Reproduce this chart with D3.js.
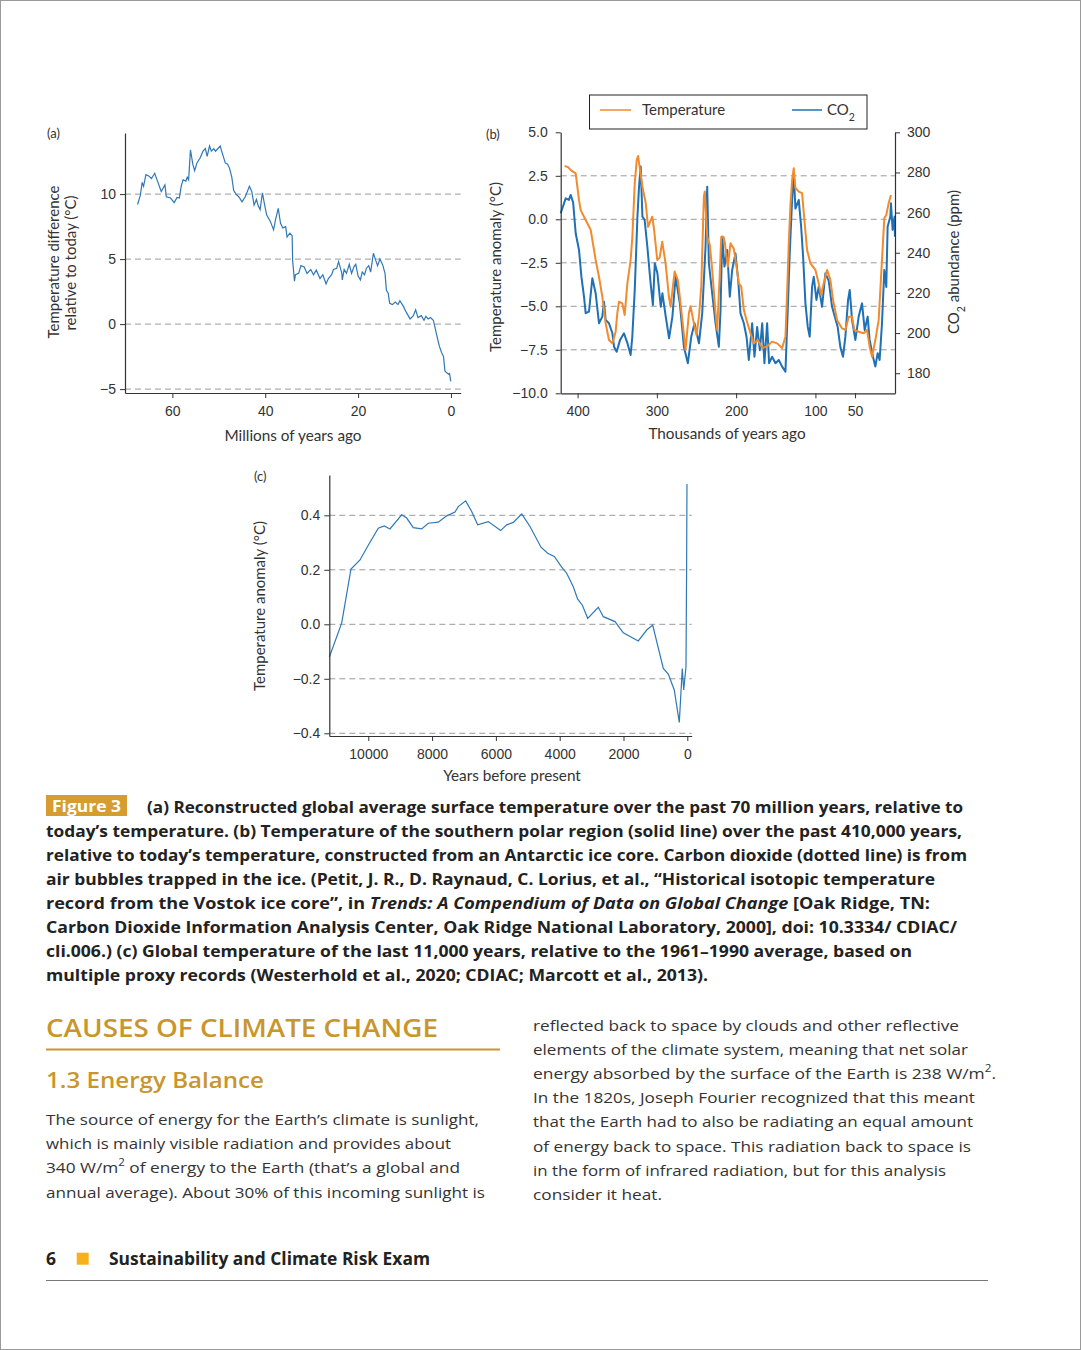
<!DOCTYPE html>
<html>
<head>
<meta charset="utf-8">
<script src="https://cdn.jsdelivr.net/npm/d3@7"></script>
<style>
  body { margin: 0; background: #fff; }
  svg { display: block; font-family: Lato, "Open Sans", sans-serif; }
  .tick text { font-size: 14px; fill: #333; }
  .domain, .tick line { stroke: #333; }
  .prose { font-family: "Open Sans", Lato, sans-serif; }
</style>
</head>
<body>
<svg id="page" width="1081" height="1350"></svg>
<script>
// panel (a): Cenozoic temperature, millions of years ago vs degC
var aAge = [67.5,66.9,66.5,66.2,65.7,65.1,64.5,63.8,63.2,62.4,61.6,61.3,60.4,59.6,59.0,58.5,58.1,57.7,57.1,56.8,56.5,56.1,55.6,55.2,54.7,54.0,53.4,52.9,52.5,52.0,51.6,51.1,50.7,49.7,49.2,48.6,48.1,47.7,47.2,46.8,46.3,45.7,45.0,44.3,43.4,42.9,42.4,41.9,41.5,41.1,40.6,40.2,39.7,38.9,38.2,37.8,37.2,36.7,36.2,35.6,35.3,34.7,34.2,34.1,33.7,33.5,32.8,32.3,31.6,31.0,30.2,29.6,29.0,28.2,27.6,26.9,26.4,25.7,25.3,24.6,24.2,23.5,23.4,23.0,22.5,21.9,21.4,20.9,20.5,20.0,19.5,19.1,18.6,18.2,17.7,17.3,16.7,16.2,15.8,15.3,14.7,14.2,13.9,13.5,13.2,12.6,12.0,11.4,11.0,10.3,9.6,8.8,8.1,7.6,7.1,6.4,5.8,5.4,4.9,4.4,3.8,3.5,3.0,2.5,2.0,1.6,1.3,0.9,0.5,0.3,0.05];
var aTemp = [9.2,9.9,10.9,10.6,11.5,11.4,11.2,11.6,11.0,10.2,10.7,9.8,9.7,9.35,9.75,9.7,10.6,11.1,11.0,11.3,11.1,13.4,12.3,11.8,12.4,12.8,13.3,13.5,12.9,13.7,13.3,13.5,13.3,13.7,13.1,12.4,12.3,12.0,11.3,10.3,10.0,9.8,9.4,9.8,10.6,10.2,9.15,9.6,9.1,8.8,10.1,9.3,8.4,7.9,7.25,8.0,8.9,7.75,7.4,7.5,6.7,7.0,6.8,4.9,3.3,3.8,3.9,4.5,4.4,3.9,4.2,3.8,4.15,3.5,3.8,3.1,3.5,3.8,4.2,4.3,4.8,3.9,3.4,4.2,3.9,4.6,3.9,4.4,4.6,3.7,3.4,4.0,3.8,4.3,4.5,4.0,5.45,4.9,4.5,5.0,4.55,3.9,2.6,2.35,1.6,1.5,1.7,1.5,1.8,1.4,0.9,0.4,0.65,1.1,0.5,0.65,0.3,0.6,0.4,0.5,0.3,-0.15,-0.95,-1.7,-2.2,-2.5,-3.6,-3.75,-3.85,-3.8,-4.4];
var aYTicks = [-5, 0, 5, 10];
var aXTicks = [60, 40, 20, 0];

// panel (b): Vostok temperature (degC) and CO2 (ppm), thousands of years ago
var bTempAge = [416.3,412,408.7,402.4,398.2,396.1,389.8,383.5,379.3,377.2,373,368.8,364.6,360.4,356.1,352,349.9,347.8,343.6,340.6,337.2,333.1,330.9,327.9,325.4,323.7,321.2,318.2,314,311.1,308.6,305.8,303.5,299.5,296.5,293.2,289,284.8,282.7,277.6,273.5,270.1,263.8,259.6,257.5,253.3,250,246.9,244,240.7,239.5,236.5,233.2,230.2,226,223.9,220.6,218.8,216,214.4,210.5,207.1,202.9,199.5,196.6,193.6,190.3,186.9,181.9,177.7,172.6,167.1,160.8,154.6,148.3,142,137.8,135.5,133.6,131.5,129.4,127.3,125.2,121,116.8,113.9,110.5,106.3,100,95.8,92.9,89.5,85.3,81.1,77.7,72.7,66.4,62.2,58,53.8,50.9,45.4,39.1,34.9,31.6,28.6,24.4,20.2,16,13.1,10.6,7.6,4.7];
var bTemp = [3.06,3.0,2.83,2.64,1.1,0.53,-0.04,-0.6,-1.76,-2.34,-3.3,-4.45,-5.98,-6.94,-7.13,-6.46,-5.4,-4.74,-4.83,-5.5,-3.68,-2.34,-1.0,2.07,3.41,3.64,2.83,1.87,0.92,-0.43,-0.15,0.15,-0.6,-2.34,-2.2,-1.29,-2.53,-4.45,-5.02,-3.0,-3.5,-4.83,-7.5,-5.4,-5.0,-5.98,-6.65,-5.6,-3.87,1.3,1.6,-1.0,-1.48,-2.9,-5.4,-6.36,-3.1,-1.0,-1.0,-1.3,-2.72,-1.38,-1.7,-2.72,-3.68,-3.87,-5.2,-5.79,-6.55,-7.13,-6.94,-7.4,-7.3,-7.03,-7.13,-7.4,-6.75,-4.0,-1.38,0.8,2.26,2.93,1.8,1.59,1.5,-0.04,-1.76,-2.53,-2.91,-3.68,-4.35,-3.68,-2.91,-3.49,-4.64,-5.79,-6.27,-6.36,-5.6,-5.6,-6.36,-6.46,-6.55,-6.36,-7.32,-7.9,-6.94,-5.79,-2.34,0.06,0.25,0.92,1.4];
var bCo2Age = [421.3,415,411,408.7,405.6,402.4,398.2,395.2,391.9,389.8,385.6,381.4,377.2,373,368.8,366.7,364.6,360.4,356.1,354,350.7,346.4,341.5,337.2,333.1,331,327.9,324.5,322.5,320.4,318.2,315.4,312,307.9,305,302.6,299.3,295.1,293,288.8,284.6,280.4,276.4,271,265.9,260.9,256.6,252.5,246.9,242.8,238.6,236.5,234.4,230.2,226,221.8,219.7,217.6,214.7,211.3,208,205,200.8,197.4,194.5,190.3,186.9,184,179.8,176.9,173.5,170.1,167.1,164.3,160.9,158.4,154.6,150.4,146.2,142,137.8,134.9,132.4,129.4,127.3,125.2,121,118,115.5,112.6,109.7,107.2,104.2,102.1,98.7,95.8,91.6,87.4,83.2,79,75.6,72,68.5,65.2,62.2,58.8,56.7,53.8,49.6,45.4,41.2,37.8,34.1,31.6,27.4,24.4,21.5,19,16,13.1,10.6,8.9,5.5,4.7,2.6,0.1,-0.3];
var bCo2 = [259.7,267.1,266.3,268.8,265,249.7,241.4,228.1,218.1,209.9,210.7,227.3,219.8,204.9,208.2,215.6,206.5,204.9,199.9,193.2,190.7,196.6,199.9,195,189.1,198,221.5,258,272.9,283,258,256.3,243,224.8,214,234.8,229.8,213.1,219.8,208.2,197.4,208.2,228.1,214.8,193.2,185,198.2,204.9,194.9,209.8,243,272.9,234.8,219.8,204.9,193.2,211,248,233.1,241.4,218.1,231.4,239.7,226.4,209.8,204.9,198.2,186.6,204.9,188.2,203,191.5,204.9,185,204.9,185,188.2,185,186.6,183.3,180.8,211.5,239.7,266.3,279.6,262,266.3,253,238,214.8,203.2,198.2,223.1,228,216.5,223.1,213.1,229.8,226,213.1,208.2,203.2,193,188.2,198.2,216.5,221.5,206.5,196.6,208.2,214.8,201.5,208.2,196.6,188.2,183.3,190,186.6,204.9,231.4,223,253,258,264.6,251.4,258,248];
var bTempTicks = [5, 2.5, 0, -2.5, -5, -7.5, -10];
var bGridTicks = [2.5, 0, -2.5, -5, -7.5];
var bCo2Ticks = [180, 200, 220, 240, 260, 280, 300];
var bXTicks = [400, 300, 200, 100, 50];

// panel (c): Holocene temperature anomaly, years before present
var cYear = [11220,10834,10542,10260,10000,9687,9498,9320,8953,8796,8589,8326,8119,7806,7542,7282,7179,6947,6759,6571,6238,5850,5662,5455,5191,4931,4586,4376,4169,3937,3781,3574,3436,3292,3122,2790,2633,2266,2006,1536,1273,1085,752,596,408,251,157,113,41,22,10];
var cTemp = [-0.12,0.004,0.203,0.236,0.29,0.353,0.361,0.35,0.402,0.39,0.355,0.35,0.371,0.375,0.398,0.412,0.432,0.453,0.414,0.365,0.377,0.344,0.365,0.374,0.405,0.359,0.283,0.261,0.249,0.21,0.1875,0.138,0.092,0.071,0.022,0.0625,0.028,0.01,-0.031,-0.061,-0.021,-0.003,-0.162,-0.183,-0.241,-0.36,-0.162,-0.241,-0.156,0.2,0.515];
var cYTicks = [-0.4, -0.2, 0, 0.2, 0.4];
var cXTicks = [10000, 8000, 6000, 4000, 2000, 0];

var captionLines = [
  "(a) Reconstructed global average surface temperature over the past 70 million years, relative to",
  "today\u2019s temperature. (b) Temperature of the southern polar region (solid line) over the past 410,000 years,",
  "relative to today\u2019s temperature, constructed from an Antarctic ice core. Carbon dioxide (dotted line) is from",
  "air bubbles trapped in the ice. (Petit, J. R., D. Raynaud, C. Lorius, et al., \u201cHistorical isotopic temperature",
  null,
  "Carbon Dioxide Information Analysis Center, Oak Ridge National Laboratory, 2000], doi: 10.3334/ CDIAC/",
  "cli.006.) (c) Global temperature of the last 11,000 years, relative to the 1961\u20131990 average, based on",
  "multiple proxy records (Westerhold et al., 2020; CDIAC; Marcott et al., 2013)."
];
var captionEnds = [963, 962, 967, 935, 930, 957, 912, 708];

var leftPara = [
  "The source of energy for the Earth\u2019s climate is sunlight,",
  "which is mainly visible radiation and provides about",
  null,
  "annual average). About 30% of this incoming sunlight is"
];
var leftEnds = [479, 451, 460, 485];
var rightPara = [
  "reflected back to space by clouds and other reflective",
  "elements of the climate system, meaning that net solar",
  null,
  "In the 1820s, Joseph Fourier recognized that this meant",
  "that the Earth had to also be radiating an equal amount",
  "of energy back to space. This radiation back to space is",
  "in the form of infrared radiation, but for this analysis",
  "consider it heat."
];
var rightEnds = [959, 968, 996, 975, 973, 971, 946, 662];

var svg = d3.select("#page");
var minus = d => String(d).replace("-", "\u2212");

// page frame
svg.append("rect")
  .attr("x", 0.5).attr("y", 0.5).attr("width", 1080).attr("height", 1349)
  .attr("fill", "none").attr("stroke", "#9a9a9a");

// helper: dashed grid lines
function grid(g, yScale, ticks, x0, x1) {
  g.selectAll(null).data(ticks).enter().append("line")
    .attr("x1", x0).attr("x2", x1)
    .attr("y1", d => yScale(d)).attr("y2", d => yScale(d))
    .attr("stroke", "#9a9a9a").attr("stroke-width", 1)
    .attr("stroke-dasharray", "6,4");
}

function styleAxis(g) {
  g.select(".domain").attr("stroke-width", 1.2);
  g.selectAll(".tick line").attr("stroke-width", 1);
}

// stretch a text line to the measured width of the printed page
function fit(t, x0, x1) {
  t.attr("textLength", x1 - x0).attr("lengthAdjust", "spacingAndGlyphs");
}

// ---------- panel (a) ----------
var ax = d3.scaleLinear().domain([70.2, -2.1]).range([125, 460.7]);
var ay = d3.scaleLinear().domain([-5.3, 14.7]).range([393, 133]);
var pa = svg.append("g");
grid(pa, ay, aYTicks, 125, 460.7);

pa.append("path")
  .datum(aAge.map((d, i) => [d, aTemp[i]]))
  .attr("fill", "none").attr("stroke", "#2f78b7").attr("stroke-width", 1.2)
  .attr("d", d3.line().x(d => ax(d[0])).y(d => ay(d[1])));

pa.append("g").attr("transform", "translate(0,393)")
  .call(d3.axisBottom(ax).tickValues(aXTicks).tickSize(5).tickPadding(8).tickSizeOuter(0))
  .call(styleAxis);
pa.append("g").attr("transform", "translate(125,0)")
  .call(d3.axisLeft(ay).tickValues(aYTicks).tickSize(5).tickPadding(4).tickSizeOuter(0).tickFormat(minus))
  .call(styleAxis);

pa.append("text").attr("x", 47).attr("y", 138).attr("font-size", 13).attr("fill", "#333").text("(a)");
pa.append("text").attr("transform", "translate(59,262) rotate(-90)")
  .attr("text-anchor", "middle").attr("font-size", 15).attr("fill", "#333").text("Temperature difference");
pa.append("text").attr("transform", "translate(76,263) rotate(-90)")
  .attr("text-anchor", "middle").attr("font-size", 15).attr("fill", "#333").text("relative to today (\u00b0C)");
pa.append("text").attr("x", 293).attr("y", 441).attr("text-anchor", "middle")
  .attr("font-size", 15.3).attr("fill", "#333").text("Millions of years ago");

// ---------- panel (b) ----------
var bx = d3.scaleLinear().domain([421.3, -0.4]).range([560.7, 895]);
var by = d3.scaleLinear().domain([-10, 5]).range([393.3, 132.3]);
var byr = d3.scaleLinear().domain([170, 300]).range([393.3, 132.3]);
var pb = svg.append("g");
grid(pb, by, bGridTicks, 560.7, 895);

pb.append("path")
  .datum(bCo2Age.map((d, i) => [d, bCo2[i]]))
  .attr("fill", "none").attr("stroke", "#1f70b4").attr("stroke-width", 2)
  .attr("stroke-linejoin", "round")
  .attr("d", d3.line().x(d => bx(d[0])).y(d => byr(d[1])));
pb.append("path")
  .datum(bTempAge.map((d, i) => [d, bTemp[i]]))
  .attr("fill", "none").attr("stroke", "#f28a2e").attr("stroke-width", 2)
  .attr("stroke-linejoin", "round")
  .attr("d", d3.line().x(d => bx(d[0])).y(d => by(d[1])));

pb.append("g").attr("transform", "translate(0,393.3)")
  .call(d3.axisBottom(bx).tickValues(bXTicks).tickSize(5).tickPadding(8).tickSizeOuter(0))
  .call(styleAxis);
pb.append("g").attr("transform", "translate(560.7,0)")
  .call(d3.axisLeft(by).tickValues(bTempTicks).tickSize(5).tickPadding(8).tickSizeOuter(0)
    .tickFormat(d => minus(d3.format(".1f")(d))))
  .call(styleAxis);
pb.append("g").attr("transform", "translate(895,0)")
  .call(d3.axisRight(byr).tickValues(bCo2Ticks).tickSize(5).tickPadding(7).tickSizeOuter(0))
  .call(styleAxis);

pb.append("text").attr("x", 486).attr("y", 139).attr("font-size", 13).attr("fill", "#333").text("(b)");
pb.append("text").attr("transform", "translate(501,267) rotate(-90)")
  .attr("text-anchor", "middle").attr("font-size", 15).attr("fill", "#333").text("Temperature anomaly (\u00b0C)");
var co2Label = pb.append("text").attr("transform", "translate(959,262) rotate(-90)")
  .attr("text-anchor", "middle").attr("font-size", 15).attr("fill", "#333");
co2Label.append("tspan").text("CO");
co2Label.append("tspan").attr("baseline-shift", "sub").attr("font-size", 10.5).text("2");
co2Label.append("tspan").text(" abundance (ppm)");
pb.append("text").attr("x", 727).attr("y", 439).attr("text-anchor", "middle")
  .attr("font-size", 15.3).attr("fill", "#333").text("Thousands of years ago");

// legend
var lg = pb.append("g");
lg.append("rect").attr("x", 589.5).attr("y", 95).attr("width", 277.5).attr("height", 34)
  .attr("fill", "#fff").attr("stroke", "#222").attr("stroke-width", 1);
lg.append("line").attr("x1", 600).attr("x2", 631).attr("y1", 110).attr("y2", 110)
  .attr("stroke", "#f28a2e").attr("stroke-width", 1.5);
lg.append("text").attr("x", 642).attr("y", 115).attr("font-size", 15).attr("fill", "#333").text("Temperature");
lg.append("line").attr("x1", 792).attr("x2", 822).attr("y1", 110).attr("y2", 110)
  .attr("stroke", "#1f70b4").attr("stroke-width", 1.5);
var co2Leg = lg.append("text").attr("x", 827).attr("y", 115).attr("font-size", 15).attr("fill", "#333");
co2Leg.append("tspan").text("CO");
co2Leg.append("tspan").attr("baseline-shift", "sub").attr("font-size", 10.5).text("2");

// ---------- panel (c) ----------
var cx = d3.scaleLinear().domain([11222, -138]).range([329.3, 691.7]);
var cy = d3.scaleLinear().domain([-0.41, 0.548]).range([736, 475]);
var pc = svg.append("g");
grid(pc, cy, cYTicks, 329.3, 691.7);

pc.append("path")
  .datum(cYear.map((d, i) => [d, cTemp[i]]))
  .attr("fill", "none").attr("stroke", "#2f78b7").attr("stroke-width", 1.2)
  .attr("d", d3.line().x(d => cx(d[0])).y(d => cy(d[1])));

pc.append("g").attr("transform", "translate(0,736)")
  .call(d3.axisBottom(cx).tickValues(cXTicks).tickSize(5).tickPadding(8).tickSizeOuter(0).tickFormat(d3.format("d")))
  .call(styleAxis);
pc.append("g").attr("transform", "translate(329.3,0)")
  .call(d3.axisLeft(cy).tickValues(cYTicks).tickSize(5).tickPadding(4).tickSizeOuter(0)
    .tickFormat(d => minus(d3.format(".1f")(d))))
  .call(styleAxis);

pc.append("text").attr("x", 254).attr("y", 481).attr("font-size", 13).attr("fill", "#333").text("(c)");
pc.append("text").attr("transform", "translate(265,606) rotate(-90)")
  .attr("text-anchor", "middle").attr("font-size", 15).attr("fill", "#333").text("Temperature anomaly (\u00b0C)");
pc.append("text").attr("x", 512).attr("y", 781).attr("text-anchor", "middle")
  .attr("font-size", 15.3).attr("fill", "#333").text("Years before present");

// ---------- caption ----------
var cap = svg.append("g").attr("class", "prose").attr("font-weight", "bold").attr("font-size", 16.5).attr("fill", "#222");
cap.append("rect").attr("x", 46).attr("y", 795).attr("width", 81).attr("height", 21).attr("fill", "#d69c30");
fit(cap.append("text").attr("x", 52).attr("y", 811.5).attr("fill", "#fff").text("Figure 3"), 52, 121);
captionLines.forEach(function(line, i) {
  var x0 = i === 0 ? 147 : 46;
  var t = cap.append("text").attr("x", x0).attr("y", 812.5 + i * 24.1);
  if (line) {
    t.text(line);
  } else {
    t.append("tspan").text("record from the Vostok ice core\u201d, in ");
    t.append("tspan").attr("font-style", "italic").text("Trends: A Compendium of Data on Global Change");
    t.append("tspan").text(" [Oak Ridge, TN:");
  }
  fit(t, x0, captionEnds[i]);
});

// ---------- body text ----------
var gold = "#c9962e";
fit(svg.append("text").attr("class", "prose").attr("x", 46).attr("y", 1037).attr("font-size", 25)
  .attr("font-weight", 600).attr("fill", gold).text("CAUSES OF CLIMATE CHANGE"), 46, 438);
svg.append("line").attr("x1", 46).attr("x2", 500).attr("y1", 1049.5).attr("y2", 1049.5)
  .attr("stroke", gold).attr("stroke-width", 2);
fit(svg.append("text").attr("class", "prose").attr("x", 46).attr("y", 1088).attr("font-size", 21.5)
  .attr("font-weight", 600).attr("fill", gold).text("1.3 Energy Balance"), 46, 264);

var body = svg.append("g").attr("class", "prose").attr("font-size", 15).attr("fill", "#333");
leftPara.forEach(function(line, i) {
  var t = body.append("text").attr("x", 46).attr("y", 1124.5 + i * 24.4);
  if (line) {
    t.text(line);
  } else {
    t.append("tspan").text("340 W/m");
    t.append("tspan").attr("baseline-shift", "super").attr("font-size", 10).text("2");
    t.append("tspan").text(" of energy to the Earth (that\u2019s a global and");
  }
  fit(t, 46, leftEnds[i]);
});
rightPara.forEach(function(line, i) {
  var t = body.append("text").attr("x", 533).attr("y", 1030.5 + i * 24.2);
  if (line) {
    t.text(line);
  } else {
    t.append("tspan").text("energy absorbed by the surface of the Earth is 238 W/m");
    t.append("tspan").attr("baseline-shift", "super").attr("font-size", 10).text("2");
    t.append("tspan").text(".");
  }
  fit(t, 533, rightEnds[i]);
});

// ---------- footer ----------
svg.append("text").attr("class", "prose").attr("x", 46).attr("y", 1265).attr("font-size", 17.5).attr("font-weight", "bold")
  .attr("fill", "#222").text("6");
svg.append("rect").attr("x", 76.7).attr("y", 1252.7).attr("width", 12).attr("height", 12).attr("fill", "#f6b21c");
fit(svg.append("text").attr("class", "prose").attr("x", 109).attr("y", 1265).attr("font-size", 17.5).attr("font-weight", "bold")
  .attr("fill", "#222").text("Sustainability and Climate Risk Exam"), 109, 430);
svg.append("line").attr("x1", 46).attr("x2", 988).attr("y1", 1280.5).attr("y2", 1280.5)
  .attr("stroke", "#777").attr("stroke-width", 1);
</script>
</body>
</html>
